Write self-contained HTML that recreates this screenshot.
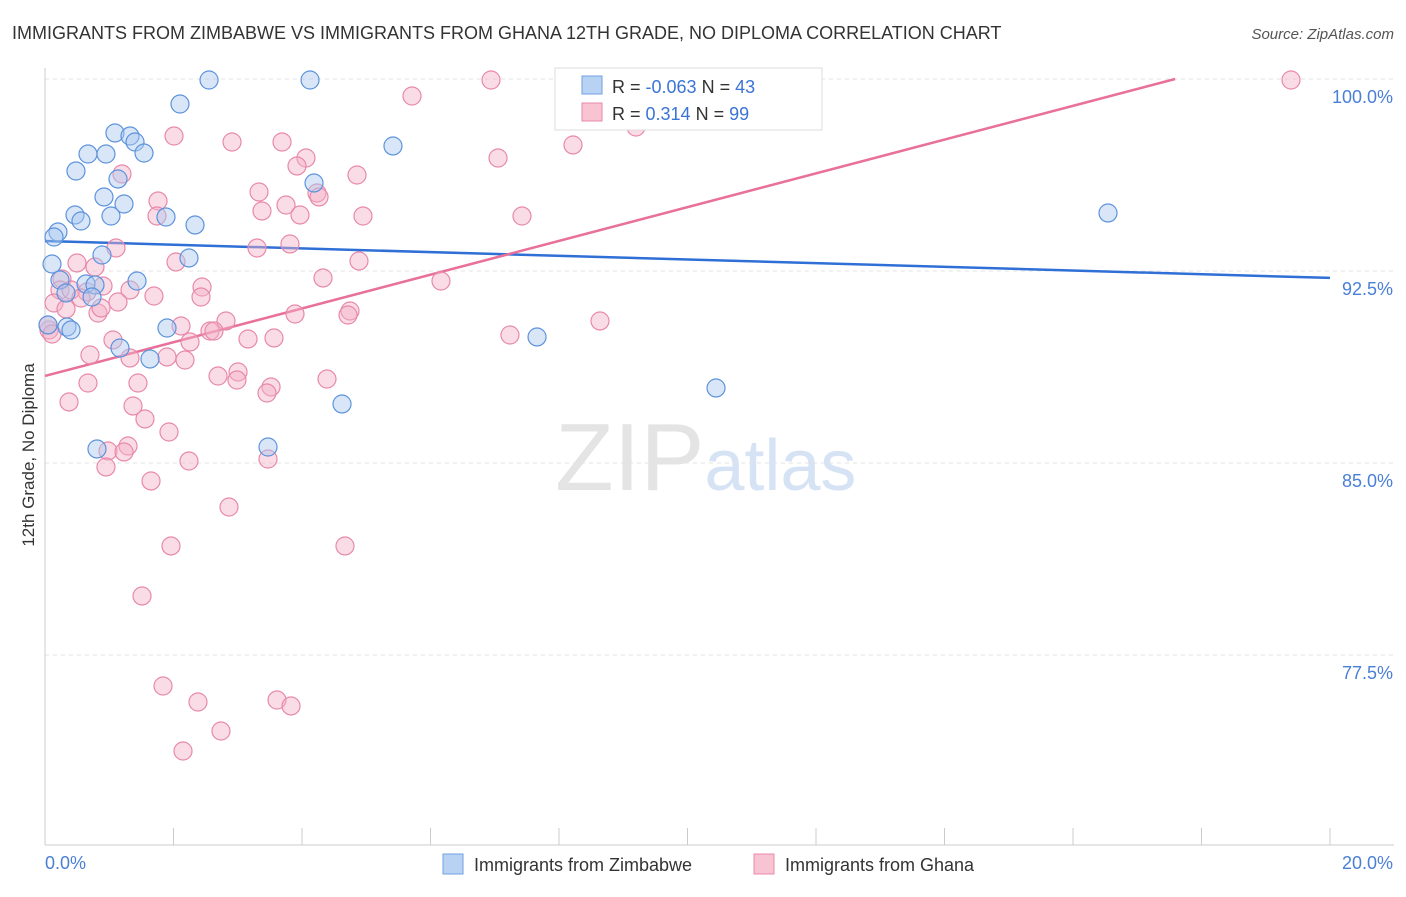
<!DOCTYPE html>
<html><head><meta charset="utf-8"><style>
body{margin:0;background:#fff;font-family:"Liberation Sans",sans-serif;}
svg text{font-family:"Liberation Sans",sans-serif;}
</style></head><body>
<svg id="chart" width="1406" height="892" xmlns="http://www.w3.org/2000/svg">
<text x="12" y="39" font-size="18" fill="#333">IMMIGRANTS FROM ZIMBABWE VS IMMIGRANTS FROM GHANA 12TH GRADE, NO DIPLOMA CORRELATION CHART</text>
<text x="1394" y="39" font-size="15" fill="#555" text-anchor="end" font-style="italic">Source: ZipAtlas.com</text>
<text x="555" y="490" font-size="96" fill="#e4e4e4" font-family="Liberation Serif">ZIP<tspan fill="#d6e3f5" font-family="Liberation Sans" font-size="72">atlas</tspan></text>
<g id="grid"></g><g id="axes"></g><g id="trends"></g><g id="pts"></g>
<text transform="translate(34,455) rotate(-90)" font-size="17" fill="#333" text-anchor="middle">12th Grade, No Diploma</text>
<text x="45" y="869" font-size="18" fill="#4a7fd6">0.0%</text>
<text x="1393" y="869" font-size="18" fill="#4a7fd6" text-anchor="end">20.0%</text>
<g>
<rect x="555" y="68" width="267" height="62" fill="#fff" stroke="#ddd"/>
<rect x="582" y="76" width="20" height="18" fill="#b8d2f3" stroke="#6fa0e0"/>
<rect x="582" y="103" width="20" height="18" fill="#f8c4d4" stroke="#e889aa"/>
<text x="612" y="93" font-size="18" fill="#333">R = <tspan fill="#3b74d6">-0.063</tspan>   N = <tspan fill="#3b74d6">43</tspan></text>
<text x="612" y="120" font-size="18" fill="#333">R =   <tspan fill="#3b74d6">0.314</tspan>   N = <tspan fill="#3b74d6">99</tspan></text>
</g>
<g><rect x="443" y="854" width="20" height="20" fill="#b8d2f3" stroke="#6fa0e0"/><text x="474" y="871" font-size="18" fill="#333">Immigrants from Zimbabwe</text></g>
<g><rect x="754" y="854" width="20" height="20" fill="#f8c4d4" stroke="#e889aa"/><text x="785" y="871" font-size="18" fill="#333">Immigrants from Ghana</text></g>
</svg>
<script>
const yTicks=[100,92.5,85,77.5];
const yTickLabels=["100.0%","92.5%","85.0%","77.5%"];
const xTicks=[0,2,4,6,8,10,12,14,16,18,20];
const blueTrend=[93.67,92.23];
const pinkTrend=[88.40,0.6595];
const bluePx=[[209,80],[310,80],[180,104],[115,133],[130,136],[135,142],[144,153],[88,154],[106,154],[393,146],[76,171],[118,179],[314,183],[104,197],[124,204],[75,215],[81,221],[111,216],[166,217],[195,225],[1108,213],[58,232],[54,237],[52,264],[102,255],[189,258],[60,280],[86,284],[95,285],[137,281],[92,297],[66,293],[67,327],[71,330],[167,328],[537,337],[120,348],[150,359],[716,388],[342,404],[97,449],[268,447],[48,325]];
const pinkPx=[[491,80],[1291,80],[412,96],[174,136],[232,142],[282,142],[636,127],[573,145],[498,158],[306,158],[297,166],[122,174],[357,175],[259,192],[317,193],[319,197],[158,201],[286,205],[262,211],[300,215],[157,216],[363,216],[522,216],[116,248],[257,248],[290,244],[359,261],[77,263],[95,267],[176,262],[62,279],[323,278],[441,281],[103,286],[60,290],[71,290],[87,292],[130,290],[202,287],[154,296],[201,297],[118,302],[54,303],[66,309],[98,313],[81,298],[101,308],[350,311],[348,315],[295,314],[600,321],[181,326],[226,321],[210,331],[214,331],[248,339],[274,338],[190,342],[113,340],[49,330],[130,358],[90,355],[167,357],[185,360],[510,335],[238,372],[218,376],[237,380],[138,383],[88,383],[327,379],[271,387],[267,393],[69,402],[133,406],[145,419],[169,432],[128,446],[108,451],[124,452],[268,459],[189,461],[106,467],[151,481],[229,507],[171,546],[345,546],[142,596],[163,686],[198,702],[277,700],[291,706],[221,731],[183,751],[48,325],[52,334]];
// convert picture readings to data values (x %, y %)
const blueX=bluePx.map(p=>+((p[0]-45)/1285*20).toFixed(3));
const blueY=bluePx.map(p=>+(100-(p[1]-79)/25.6).toFixed(3));
const pinkX=pinkPx.map(p=>+((p[0]-45)/1285*20).toFixed(3));
const pinkY=pinkPx.map(p=>+(100-(p[1]-79)/25.6).toFixed(3));
const X=v=>45+v/20*1285, Y=v=>79+(100-v)*25.6;
const NS="http://www.w3.org/2000/svg";
function mk(tag,attrs,parent){const e=document.createElementNS(NS,tag);for(const k in attrs)e.setAttribute(k,attrs[k]);document.getElementById(parent).appendChild(e);return e;}
yTicks.forEach((t,i)=>{
 const l=mk('line',{x1:45,x2:1394,y1:Y(t),y2:Y(t),stroke:'#e3e3e3','stroke-dasharray':'4,4'},'grid');
 
 
 const tx=mk('text',{x:1393,y:Y(t)+24,'font-size':18,fill:'#4a7fd6','text-anchor':'end'},'grid');
 tx.textContent=yTickLabels[i];
 
 
});
const ax=mk('line',{x1:45,x2:45,y1:68,y2:845,stroke:'#ccc'},'axes');


const bx=mk('line',{x1:45,x2:1394,y1:845,y2:845,stroke:'#ccc'},'axes');


xTicks.forEach(t=>{
 const l=mk('line',{x1:X(t),x2:X(t),y1:828,y2:845,stroke:'#ccc'},'axes');
 
 
});
function dots(xs,ys,fill,stroke,name){xs.forEach((x,i)=>{
 const c=mk('circle',{cx:X(x),cy:Y(ys[i]),r:9,fill:fill,'fill-opacity':0.45,stroke:stroke,'stroke-width':1.2},'pts');
 
 
});}
dots(pinkX,pinkY,'#f5b2c7','#e889aa','ghana-point');
dots(blueX,blueY,'#a9c8f0','#5d93dc','zimbabwe-point');
const bl=mk('line',{x1:X(0),y1:Y(blueTrend[0]),x2:X(20),y2:Y(blueTrend[1]),stroke:'#2f6fd6','stroke-width':2.5},'trends');


const xe=(100-pinkTrend[0])/pinkTrend[1];
const pl=mk('line',{x1:X(0),y1:Y(pinkTrend[0]),x2:X(xe),y2:Y(100),stroke:'#e8709a','stroke-width':2.5},'trends');


</script>
</body></html>
